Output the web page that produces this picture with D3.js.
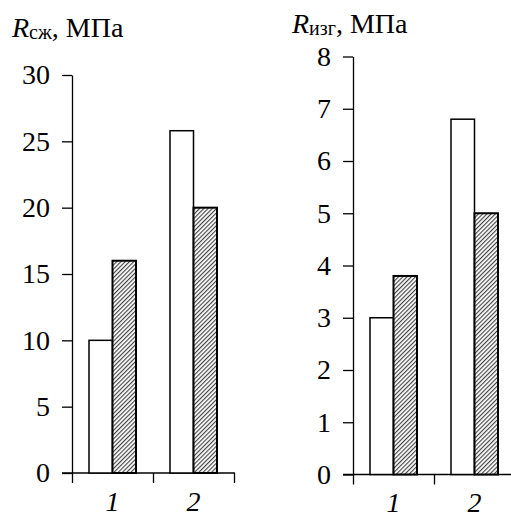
<!DOCTYPE html>
<html>
<head>
  <meta charset="utf-8">
  <script src="https://cdnjs.cloudflare.com/ajax/libs/d3/7.8.5/d3.min.js"></script>
  <style>
    body { margin: 0; padding: 0; background: #fff; }
    svg text { font-family: "Times New Roman", "Liberation Serif", Tinos, serif; }
    .axis path, .axis line { stroke: #000; stroke-width: 1.3px; }
    .axis text { font-family: "Times New Roman", "Liberation Serif", Tinos, serif; font-size: 28px; fill: #000; }
    .cat text { font-style: italic; }
  </style>
</head>
<body>
<svg width="511" height="517"></svg>
<script>
  // data
  let categories = ["1", "2"];
  let compressPlain = [10, 25.8],
    compressHatch = [16, 20];
  let bendPlain = [3, 6.8],
    bendHatch = [3.8, 5];
  let compressTicks = [0, 5, 10, 15, 20, 25, 30],
    bendTicks = [0, 1, 2, 3, 4, 5, 6, 7, 8];

  let svg = d3.select("svg");

  // hatch pattern
  svg.append("defs").append("pattern")
    .attr("id", "hatch")
    .attr("patternUnits", "userSpaceOnUse")
    .attr("width", 3)
    .attr("height", 3)
    .attr("patternTransform", "rotate(45)")
    .call(function(p) {
      p.append("rect").attr("width", 3).attr("height", 3).attr("fill", "#fff");
      p.append("line").attr("x1", 0.6).attr("x2", 0.6).attr("y1", 0).attr("y2", 3)
        .attr("stroke", "#3a3a3a").attr("stroke-width", 1.1);
    });

  function drawChart(opt) {
    let g = svg.append("g");

    let x = d3.scaleBand().domain(categories).range([opt.left, opt.left + 81 * categories.length]);
    let xb = d3.scaleLinear().domain([0, categories.length]).range(x.range());
    let x1 = d3.scaleBand().domain(["plain", "hatch"]).range([17, 64]);
    let y = d3.scaleLinear().domain([0, opt.max]).range([opt.bottom, opt.top]);

    // x axis line with boundary ticks
    g.append("line")
      .attr("x1", opt.left - 10).attr("x2", xb.range()[1] + 1)
      .attr("y1", opt.bottom).attr("y2", opt.bottom)
      .attr("stroke", "#000").attr("stroke-width", 1.3);
    g.append("g")
      .attr("class", "axis")
      .attr("transform", "translate(0," + opt.bottom + ")")
      .call(d3.axisBottom(xb).tickValues(d3.range(categories.length + 1)).tickSize(10).tickSizeOuter(0).tickFormat(""))
      .select(".domain").remove();

    // category labels
    g.append("g")
      .attr("class", "axis cat")
      .attr("transform", "translate(0," + opt.bottom + ")")
      .call(d3.axisBottom(x).tickSize(0).tickPadding(18))
      .call(function(a) { a.select(".domain").remove(); });

    // y axis
    g.append("g")
      .attr("class", "axis")
      .attr("transform", "translate(" + opt.left + ",0)")
      .call(d3.axisLeft(y).tickValues(opt.ticks).tickSize(10).tickSizeOuter(0).tickPadding(12));

    // bars
    categories.forEach(function(c, i) {
      g.append("rect")
        .attr("x", x(c) + x1("plain"))
        .attr("y", y(opt.plain[i]))
        .attr("width", x1.bandwidth())
        .attr("height", y(0) - y(opt.plain[i]))
        .attr("fill", "#fff")
        .attr("stroke", "#000")
        .attr("stroke-width", 1.5);
      g.append("rect")
        .attr("x", x(c) + x1("hatch"))
        .attr("y", y(opt.hatch[i]))
        .attr("width", x1.bandwidth())
        .attr("height", y(0) - y(opt.hatch[i]))
        .attr("fill", "url(#hatch)")
        .attr("stroke", "#000")
        .attr("stroke-width", 2);
    });

    // title
    let t = g.append("text")
      .attr("x", opt.titleX)
      .attr("y", opt.titleY)
      .style("font-size", "28px");
    t.append("tspan").style("font-style", "italic").text("R");
    t.append("tspan").style("font-size", "20px").attr("dy", 1.5).text(opt.sub);
    t.append("tspan").attr("dy", -1.5).text(", МПа");
  }

  drawChart({ left: 72, top: 75, bottom: 473, max: 30, ticks: compressTicks,
    plain: compressPlain, hatch: compressHatch, titleX: 12, titleY: 37, sub: "сж" });
  drawChart({ left: 353, top: 56.5, bottom: 474.5, max: 8, ticks: bendTicks,
    plain: bendPlain, hatch: bendHatch, titleX: 292, titleY: 33, sub: "изг" });
</script>
</body>
</html>
